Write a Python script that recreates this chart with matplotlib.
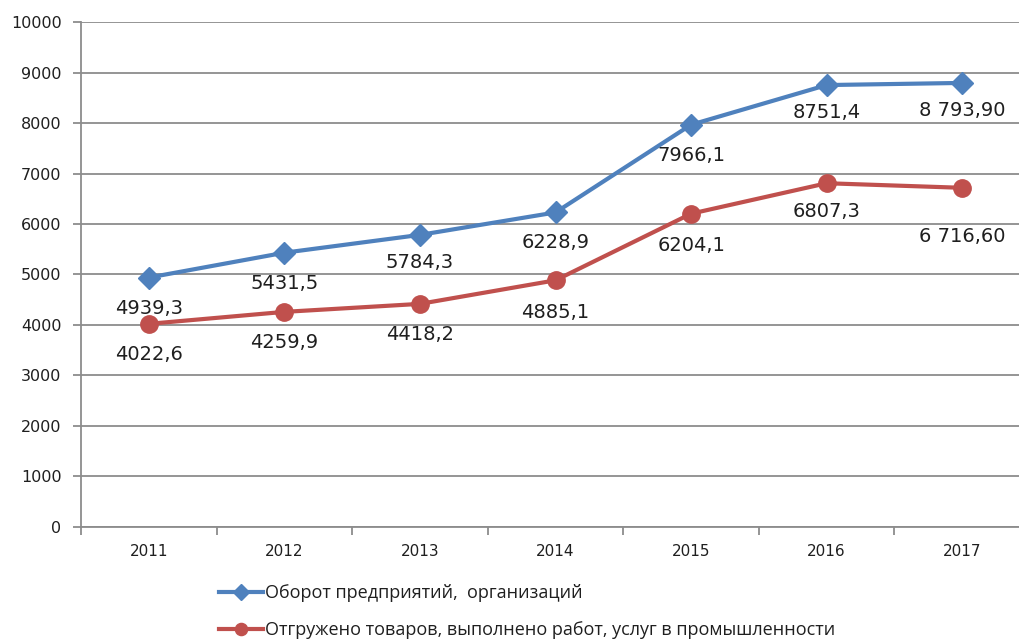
import matplotlib.pyplot as plt
import numpy as np

years = ['2011', '2012', '2013', '2014', '2015', '2016', '2017']
turnover = [4939.3, 5431.5, 5784.3, 6228.9, 7966.1, 8751.4, 8793.9]
shipped = [4022.6, 4259.9, 4418.2, 4885.1, 6204.1, 6807.3, 6716.6]
turnover_labels = ['4939,3', '5431,5', '5784,3', '6228,9', '7966,1', '8751,4', '8 793,90']
shipped_labels = ['4022,6', '4259,9', '4418,2', '4885,1', '6204,1', '6807,3', '6 716,60']
names = ['Оборот предприятий,  организаций',
         'Отгружено товаров, выполнено работ, услуг в промышленности']

blue = '#4F81BD'
red = '#C0504D'
grid_c = '#8C8C8C'
text_c = '#1F1F1F'

# label offsets below the points (points)
turnover_off = [-22, -22, -20, -22, -22, -20, -20]
shipped_off = [-22, -22, -22, -23, -23, -20, -35]

fig = plt.figure(figsize=(10.19, 6.4), dpi=100)
# the original chart is cut off on the right, so the axes run past the edge
ax = fig.add_axes([0.0795, 0.1766, 0.9313, 0.789])

x = np.arange(len(years))
ax.plot(x, turnover, color=blue, lw=3, marker='D', ms=11, label=names[0], zorder=3)
ax.plot(x, shipped, color=red, lw=3, marker='o', ms=12.5, label=names[1], zorder=3)

for xi, v, s, o in zip(x, turnover, turnover_labels, turnover_off):
    ax.annotate(s, (xi, v), xytext=(0, o), textcoords='offset points',
                ha='center', va='center', fontsize=14, color=text_c)
for xi, v, s, o in zip(x, shipped, shipped_labels, shipped_off):
    ax.annotate(s, (xi, v), xytext=(0, o), textcoords='offset points',
                ha='center', va='center', fontsize=14, color=text_c)

ax.set_xlim(-0.5, len(years) - 0.5)
ax.set_ylim(0, 10000)
ax.set_yticks(np.arange(0, 10001, 1000))
ax.set_xticks(x)
ax.set_xticklabels(years)
ax.set_xticks(np.arange(-0.5, len(years), 1), minor=True)
ax.tick_params(axis='x', which='major', length=0, pad=12, labelsize=11, labelcolor=text_c)
ax.tick_params(axis='x', which='minor', length=6, width=1.3, color=grid_c, direction='out')
ax.tick_params(axis='y', length=6, width=1.3, color=grid_c, pad=8, labelsize=11.5, labelcolor=text_c)

ax.grid(axis='y', color=grid_c, lw=1.3)
ax.set_axisbelow(True)
for side in ['top', 'right']:
    ax.spines[side].set_visible(False)
for side in ['left', 'bottom']:
    ax.spines[side].set_color(grid_c)
    ax.spines[side].set_linewidth(1.3)

leg = fig.legend(loc='upper left', bbox_to_anchor=(0.199, 0.113), frameon=False,
                 handlelength=2.45, handletextpad=0.1, labelspacing=1.05, markerscale=0.7,
                 prop={'family': 'Open Sans', 'size': 13})
for t in leg.get_texts():
    t.set_color(text_c)

fig.savefig('out.png', dpi=100)
